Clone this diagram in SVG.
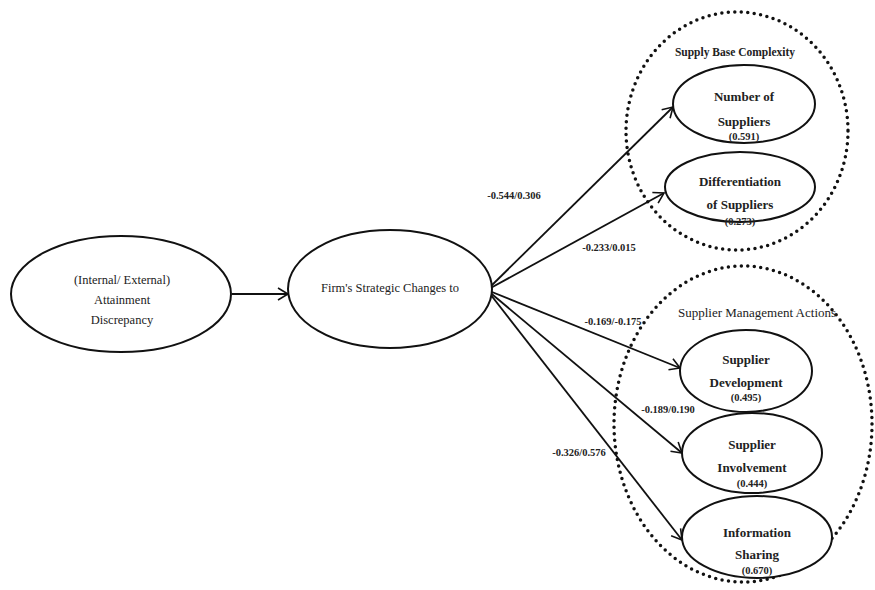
<svg xmlns="http://www.w3.org/2000/svg" width="875" height="590" viewBox="0 0 875 590">
<style>
.node{fill:#fff;stroke:#111;stroke-width:2}
.grp{fill:none;stroke:#111;stroke-width:3.5;stroke-dasharray:0 6.5;stroke-linecap:round}
text{font-family:'Liberation Serif','DejaVu Serif','Times New Roman',serif;fill:#222;text-anchor:middle}
.t{font-size:12.5px}
.b{font-size:13px;font-weight:600}
.s{font-size:10.5px;font-weight:bold}
.e{fill:none;stroke:#111;stroke-width:1.8}
</style>
<defs>
<marker id="arr" markerWidth="14" markerHeight="14" refX="12" refY="7" orient="auto" markerUnits="userSpaceOnUse">
<path d="M2,1 L12,7 L2,13" fill="none" stroke="#111" stroke-width="1.6"/>
</marker>
</defs>
<rect width="875" height="590" fill="#fff"/>
<g id="group-supply-base">
<ellipse class="grp" cx="737" cy="131" rx="111" ry="119"/>
<text class="b" x="735" y="56" style="font-size:11.5px">Supply Base Complexity</text>
</g>
<g id="group-supplier-mgmt">
<ellipse class="grp" cx="743" cy="424" rx="129" ry="158"/>
<text class="t" x="757" y="317" style="font-size:13px">Supplier Management Actions</text>
</g>
<g id="connectors">
<line class="e" x1="232" y1="294" x2="288" y2="294" marker-end="url(#arr)"/>
<line class="e" x1="487" y1="290" x2="673" y2="107" marker-end="url(#arr)"/>
<line class="e" x1="487" y1="290" x2="664" y2="193" marker-end="url(#arr)"/>
<line class="e" x1="487" y1="290" x2="680" y2="368" marker-end="url(#arr)"/>
<line class="e" x1="487" y1="290" x2="682" y2="453" marker-end="url(#arr)"/>
<line class="e" x1="487" y1="290" x2="682" y2="540" marker-end="url(#arr)"/>
<text class="s" x="514" y="199">-0.544/0.306</text>
<text class="s" x="609" y="251">-0.233/0.015</text>
<text class="s" x="613" y="325">-0.169/-0.175</text>
<text class="s" x="668" y="413">-0.189/0.190</text>
<text class="s" x="579" y="456">-0.326/0.576</text>
</g>
<g id="attainment">
<ellipse class="node" cx="121" cy="294" rx="110" ry="58"/>
<text class="t" x="122" y="284">(Internal/ External)</text>
<text class="t" x="122" y="304">Attainment</text>
<text class="t" x="122" y="324">Discrepancy</text>
</g>
<g id="firm">
<ellipse class="node" cx="390" cy="289" rx="102" ry="59"/>
<text class="t" x="390" y="292">Firm's Strategic Changes to</text>
</g>
<g id="number-suppliers">
<ellipse class="node" cx="744" cy="104" rx="71" ry="39"/>
<text class="b" x="744" y="101">Number of</text>
<text class="b" x="744" y="126">Suppliers</text>
<text class="s" x="744" y="140">(0.591)</text>
</g>
<g id="diff-suppliers">
<ellipse class="node" cx="740" cy="187" rx="75" ry="35"/>
<text class="b" x="740" y="186">Differentiation</text>
<text class="b" x="740" y="209">of Suppliers</text>
<text class="s" x="740" y="225">(0.273)</text>
</g>
<g id="supplier-development">
<ellipse class="node" cx="746" cy="371" rx="66" ry="41"/>
<text class="b" x="746" y="364">Supplier</text>
<text class="b" x="746" y="387">Development</text>
<text class="s" x="746" y="401">(0.495)</text>
</g>
<g id="supplier-involvement">
<ellipse class="node" cx="752" cy="453" rx="70" ry="40"/>
<text class="b" x="752" y="449">Supplier</text>
<text class="b" x="752" y="472">Involvement</text>
<text class="s" x="752" y="487">(0.444)</text>
</g>
<g id="information-sharing">
<ellipse class="node" cx="757" cy="537" rx="75" ry="41"/>
<text class="b" x="757" y="537">Information</text>
<text class="b" x="757" y="559">Sharing</text>
<text class="s" x="757" y="574">(0.670)</text>
</g>
</svg>
